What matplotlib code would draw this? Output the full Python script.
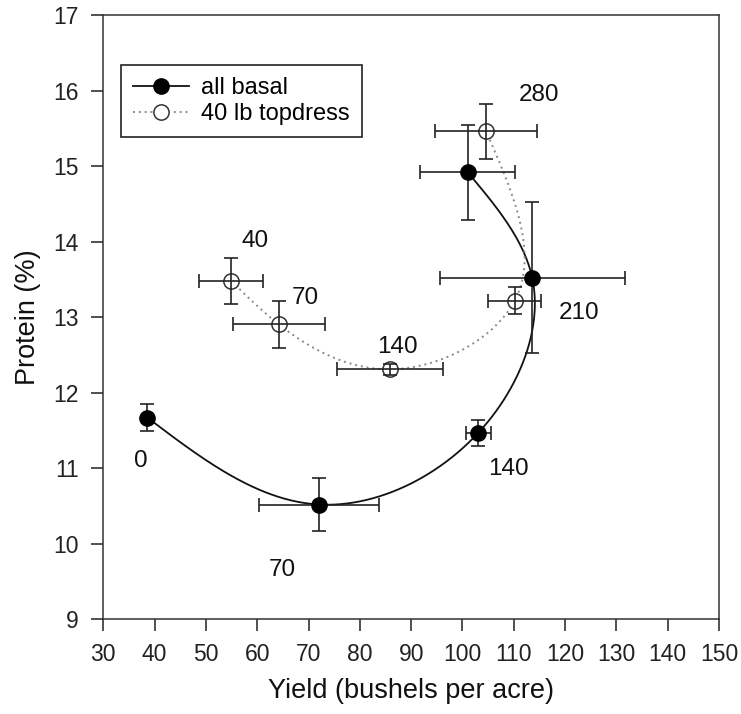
import numpy as np
import matplotlib
matplotlib.use("Agg")
import matplotlib.pyplot as plt
from matplotlib.lines import Line2D

plt.rcParams["font.family"] = ["Liberation Sans", "DejaVu Sans"]

# Nitrogen rates (lb/acre) used as point labels
n_basal = ["0", "70", "140", "210", "280"]
n_topdress = ["40", "70", "140", "210", "280"]

# All nitrogen applied basally
yield_basal = [38.6, 72.0, 103.1, 113.6, 101.0]
yield_basal_err = [0.0, 11.7, 2.4, 18.0, 9.3]
protein_basal = [11.67, 10.52, 11.47, 13.52, 14.92]
protein_basal_err = [0.18, 0.35, 0.17, 1.0, 0.63]

# 40 lb applied as topdress
yield_topdress = [54.9, 64.2, 85.9, 110.2, 104.6]
yield_topdress_err = [6.3, 9.0, 10.3, 5.2, 9.9]
protein_topdress = [13.48, 12.905, 12.31, 13.22, 15.46]
protein_topdress_err = [0.30, 0.31, 0.07, 0.18, 0.36]

x_ticks = list(range(30, 151, 10))
y_ticks = list(range(9, 18))

# label offsets (points) relative to each marker
basal_label_offsets = [(-5, -31), (-26, -47), (22, -26), (34, -25), None]
topdress_label_offsets = [(17, 29), (19, 19), (5, 16), None, (38, 26)]


def natural_cubic(t, v, tt):
    n = len(t)
    h = np.diff(t)
    A = np.zeros((n, n))
    rhs = np.zeros(n)
    A[0, 0] = 1.0
    A[-1, -1] = 1.0
    for i in range(1, n - 1):
        A[i, i - 1] = h[i - 1]
        A[i, i] = 2 * (h[i - 1] + h[i])
        A[i, i + 1] = h[i]
        rhs[i] = 6 * ((v[i + 1] - v[i]) / h[i] - (v[i] - v[i - 1]) / h[i - 1])
    M = np.linalg.solve(A, rhs)
    out = np.empty_like(tt)
    for k, s in enumerate(tt):
        i = min(max(np.searchsorted(t, s, side="right") - 1, 0), n - 2)
        a = t[i + 1] - s
        b = s - t[i]
        out[k] = (M[i] * a ** 3 + M[i + 1] * b ** 3) / (6 * h[i]) \
            + (v[i] / h[i] - M[i] * h[i] / 6) * a \
            + (v[i + 1] / h[i] - M[i + 1] * h[i] / 6) * b
    return out


def smooth_path(x, y, xr=120.0, yr=8.0):
    """Parametric natural cubic spline (chord-length parameter) through the points."""
    x = np.asarray(x, float)
    y = np.asarray(y, float)
    d = np.hypot(np.diff(x) / xr, np.diff(y) / yr)
    t = np.concatenate([[0], np.cumsum(d)])
    tt = np.linspace(0, t[-1], 400)
    return natural_cubic(t, x, tt), natural_cubic(t, y, tt)


fig = plt.figure(figsize=(7.41, 7.14), dpi=100)
ax = fig.add_axes([0.1394, 0.1326, 0.8309, 0.8464])

# fitted curves
bx, by = smooth_path(yield_basal, protein_basal)
ax.plot(bx, by, color="#111111", lw=1.3, zorder=2)
tx, ty = smooth_path(yield_topdress, protein_topdress)
ax.plot(tx, ty, color="#8a8a8a", lw=1.4, ls=(0, (1, 2)), zorder=2)

err_kw = dict(fmt="none", ecolor="#222222", elinewidth=1.2, capsize=5, capthick=1.2, zorder=4)
ax.errorbar(yield_basal, protein_basal, xerr=yield_basal_err, yerr=protein_basal_err, **err_kw)
ax.errorbar(yield_topdress, protein_topdress, xerr=yield_topdress_err, yerr=protein_topdress_err, **err_kw)

ax.plot(yield_basal, protein_basal, ls="none", marker="o", ms=11,
        mfc="black", mec="black", zorder=5)
ax.plot(yield_topdress, protein_topdress, ls="none", marker="o", ms=11,
        mfc="white", mec="#333333", mew=1.1, zorder=3)

for lab, x, y, off in zip(n_basal, yield_basal, protein_basal, basal_label_offsets):
    if off is not None:
        ax.annotate(lab, (x, y), xytext=off, textcoords="offset points",
                    ha="center", va="center", fontsize=17.5, color="#111111")
for lab, x, y, off in zip(n_topdress, yield_topdress, protein_topdress, topdress_label_offsets):
    if off is not None:
        ax.annotate(lab, (x, y), xytext=off, textcoords="offset points",
                    ha="center", va="center", fontsize=17.5, color="#111111")

ax.set_xlim(30, 150)
ax.set_ylim(9, 17)
ax.set_xticks(x_ticks)
ax.set_yticks(y_ticks)
ax.tick_params(direction="out", length=8.5, width=1.1, labelsize=16.5,
               colors="#222222")
ax.tick_params(axis="x", pad=8.5)
ax.tick_params(axis="y", pad=9)
for s in ax.spines.values():
    s.set_linewidth(1.1)
    s.set_color("#333333")

ax.set_xlabel("Yield (bushels per acre)", fontsize=19.5, color="#111111", labelpad=9)
ax.set_ylabel("Protein (%)", fontsize=19.5, color="#111111", labelpad=9)

handles = [
    Line2D([], [], color="#111111", lw=1.3, marker="o", ms=11, mfc="black", mec="black"),
    Line2D([], [], color="#8a8a8a", lw=1.4, ls=(0, (1, 2)), marker="o", ms=11,
           mfc="white", mec="#333333", mew=1.1),
]
leg = ax.legend(handles, ["all basal", "40 lb topdress"], loc="upper left",
                bbox_to_anchor=(0.0287, 0.9173), borderaxespad=0, fontsize=17,
                handlelength=2.4, handletextpad=0.5, borderpad=0.5,
                labelspacing=0.2, fancybox=False, framealpha=1)
leg.get_frame().set_edgecolor("#222222")
leg.get_frame().set_linewidth(1.2)

fig.savefig("out.png", dpi=100)
